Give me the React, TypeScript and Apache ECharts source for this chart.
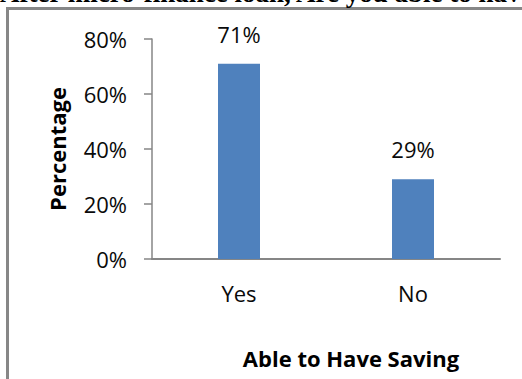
import React, { useEffect, useRef } from "react";
import * as echarts from "echarts";

const categories = ["Yes", "No"];
const values = [71, 29];
const yTicks = { min: 0, max: 80, interval: 20 };
const titleText = "After micro-finance loan, Are you able to have saving?";
const xName = "Able to Have Saving";
const yName = "Percentage";

export default function App() {
  const ref = useRef<HTMLDivElement>(null);
  useEffect(() => {
    if (!ref.current) return;
    const chart = echarts.init(ref.current, undefined, { renderer: "svg" });
    const font = '"Open Sans", sans-serif';
    chart.setOption({
      animation: false,
      backgroundColor: "#ffffff",
      textStyle: { fontFamily: font },
      grid: { left: 152, right: 22, top: 39, bottom: 120 },
      xAxis: {
        type: "category",
        data: categories,
        axisLine: { show: true, lineStyle: { color: "#868686", width: 2 } },
        axisTick: { show: false },
        axisLabel: { color: "#0a0a0a", fontSize: 22, margin: 23, fontFamily: font },
        name: xName,
        nameLocation: "middle",
        nameGap: 88,
        nameTextStyle: {
          color: "#000",
          fontSize: 22,
          fontWeight: "bold",
          fontFamily: font,
          padding: [0, 0, 0, 50],
        },
      },
      yAxis: {
        type: "value",
        min: yTicks.min,
        max: yTicks.max,
        interval: yTicks.interval,
        axisLine: { show: true, lineStyle: { color: "#868686", width: 1.5 } },
        axisTick: { show: true, length: 8, lineStyle: { color: "#868686", width: 1.5 } },
        splitLine: { show: false },
        axisLabel: { color: "#0a0a0a", fontSize: 22, margin: 25, formatter: "{value}%", fontFamily: font },
        name: yName,
        nameLocation: "middle",
        nameRotate: 90,
        nameGap: 84,
        nameTextStyle: { color: "#000", fontSize: 22, fontWeight: "bold", fontFamily: font },
      },
      series: [
        {
          type: "bar",
          data: values,
          barWidth: 42,
          itemStyle: { color: "#4f81bd" },
          label: {
            show: true,
            position: "top",
            distance: 19,
            formatter: "{c}%",
            color: "#0a0a0a",
            fontSize: 22,
            fontFamily: font,
          },
        },
      ],
      graphic: [
        {
          type: "rect",
          shape: { x: 7.5, y: 8.5, width: 700, height: 600 },
          style: { fill: "none", stroke: "#878787", lineWidth: 3 },
          silent: true,
        },
        {
          type: "text",
          x: 0,
          y: -7,
          style: {
            text: titleText,
            font: 'bold 27px "Liberation Serif", serif',
            fill: "#000",
            verticalAlign: "middle",
            align: "left",
          },
          silent: true,
        },
      ],
    });
    return () => chart.dispose();
  }, []);
  return (
    <div
      ref={ref}
      style={{ position: "fixed", left: 0, top: 0, width: 522, height: 379 }}
    />
  );
}
